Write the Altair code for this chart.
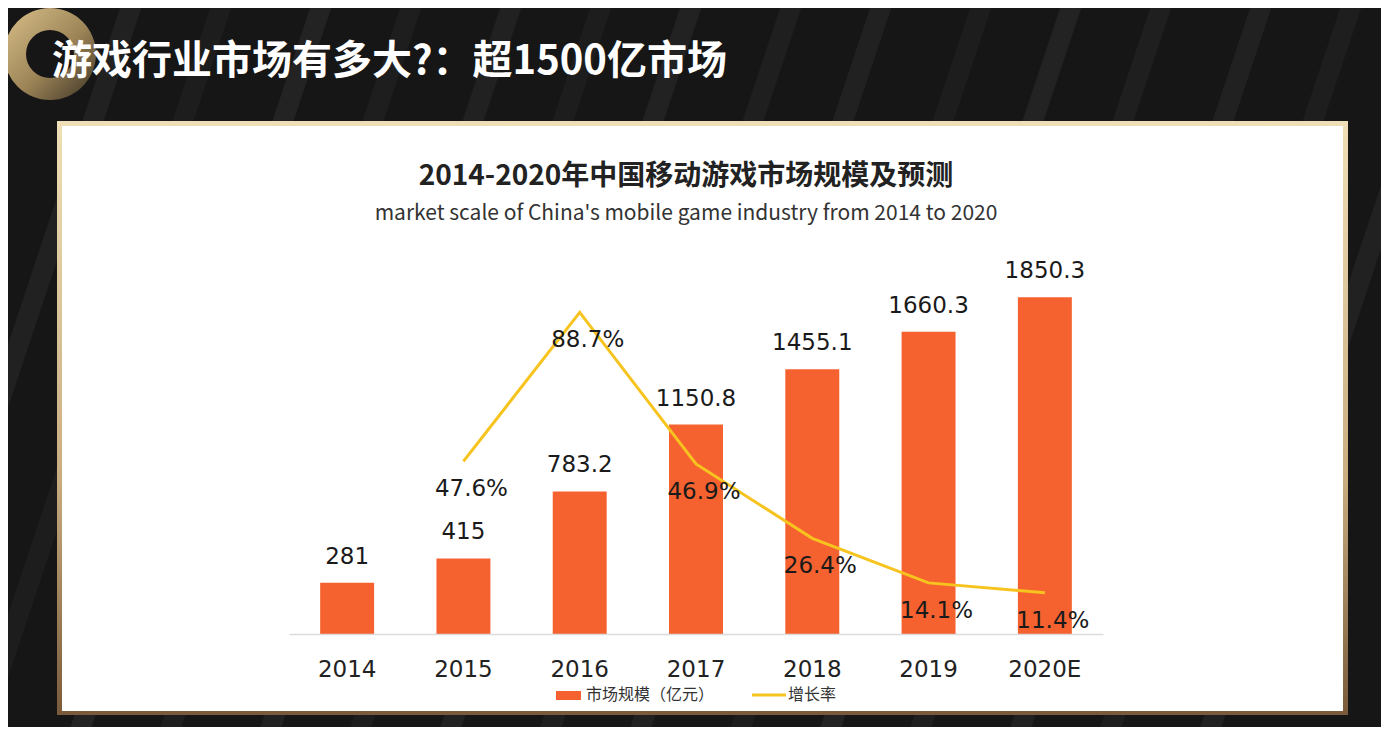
import altair as alt
import pandas as pd

# ---- data ----
years = ["2014", "2015", "2016", "2017", "2018", "2019", "2020E"]
market = [281, 415, 783.2, 1150.8, 1455.1, 1660.3, 1850.3]
growth = [None, 47.6, 88.7, 46.9, 26.4, 14.1, 11.4]

slide_title = "游戏行业市场有多大?：超1500亿市场"
chart_title = "2014-2020年中国移动游戏市场规模及预测"
chart_subtitle = "market scale of China's mobile game industry from 2014 to 2020"
legend_bar = "市场规模（亿元）"
legend_line = "增长率"

BAR_COLOR = "#F5622F"
LINE_COLOR = "#F7C31E"

df = pd.DataFrame({"year": years, "market": market, "growth": growth})
df["mlabel"] = [f"{v:g}" for v in market]
df["glabel"] = [f"{g}%" if g is not None else "" for g in growth]

one = pd.DataFrame({"a": [0]})

# plot area origin on the page (screen px), used for decoration placement
OX, OY = 289, 270
W, H = 814, 364

def sx(x):
    return x - OX

def sy(y):
    return y - OY

x_enc = alt.X("year:N", sort=years, title=None,
              scale=alt.Scale(paddingInner=0.536, paddingOuter=0.268),
              axis=alt.Axis(labelAngle=0, ticks=False, domain=True,
                            domainColor="#dcdcdc", domainWidth=1.5,
                            labelFont="DejaVu Sans", labelFontSize=23,
                            labelColor="#222222", labelPadding=24, grid=False,
                            zindex=1))
x_plain = alt.X("year:N", sort=years)
y_bar = alt.Y("market:Q", axis=None, scale=alt.Scale(domain=[0, 2000], nice=False))
y_rate = alt.Y("growth:Q", axis=None, scale=alt.Scale(domain=[0, 100.4], nice=False))

# ---- decorations ----
stripes = pd.DataFrame({
    "x": [sx(v) for v in [140, 230, 330, 420, 520, 610, 700, 800, 890, 990, 1080, 1170, 1270, 1360, 1460]],
    "o": [0.05, 0.03, 0.06, 0.035, 0.05, 0.03, 0.055, 0.04, 0.05, 0.03, 0.06, 0.04, 0.05, 0.035, 0.05],
})
stripes["y"] = sy(-20)
stripes["x2"] = stripes["x"] - 260
stripes["y2"] = sy(760)

stripe_layer = alt.Chart(stripes).mark_rule(color="#ffffff", strokeWidth=20).encode(
    x=alt.X("x:Q", scale=None), y=alt.Y("y:Q", scale=None),
    x2="x2:Q", y2="y2:Q", opacity=alt.Opacity("o:Q", scale=None, legend=None))

ring = alt.Chart(one).mark_arc(
    radius=46, radius2=24, theta=0, theta2=6.2832,
    color=alt.Gradient(gradient="linear", x1=0, y1=0, x2=1, y2=1,
                       stops=[alt.GradientStop(offset=0, color="#d9c08a"),
                              alt.GradientStop(offset=0.55, color="#9c8457"),
                              alt.GradientStop(offset=1, color="#3b3224")])
).encode(x=alt.value(sx(50)), y=alt.value(sy(54)))

title_slide = alt.Chart(one).mark_text(
    text=slide_title, align="left", baseline="middle", font="Noto Sans CJK SC",
    fontSize=40, fontWeight="bold", color="#ffffff"
).encode(x=alt.value(sx(52)), y=alt.value(sy(62)))

panel_border = alt.Chart(one).mark_rect(
    color=alt.Gradient(gradient="linear", x1=0, y1=0, x2=0, y2=1,
                       stops=[alt.GradientStop(offset=0, color="#efdfb6"),
                              alt.GradientStop(offset=0.6, color="#c9ad80"),
                              alt.GradientStop(offset=1, color="#7a5a3a")])
).encode(x=alt.value(sx(57)), x2=alt.value(sx(1348)), y=alt.value(sy(121)), y2=alt.value(sy(715)))

panel = alt.Chart(one).mark_rect(color="#ffffff").encode(
    x=alt.value(sx(62)), x2=alt.value(sx(1343)), y=alt.value(sy(126)), y2=alt.value(sy(711)))

t1 = alt.Chart(one).mark_text(
    text=chart_title, align="center", baseline="middle", font="Noto Sans CJK SC",
    fontSize=28, fontWeight="bold", color="#222222"
).encode(x=alt.value(sx(686)), y=alt.value(sy(177)))

t2 = alt.Chart(one).mark_text(
    text=chart_subtitle, align="center", baseline="middle", font="Noto Sans CJK SC",
    fontSize=21, color="#333333"
).encode(x=alt.value(sx(686)), y=alt.value(sy(214)))

LEG_Y = 695
leg_rect = alt.Chart(one).mark_rect(color=BAR_COLOR).encode(
    x=alt.value(sx(556)), x2=alt.value(sx(581)), y=alt.value(sy(LEG_Y - 4)), y2=alt.value(sy(LEG_Y + 5)))
leg_t1 = alt.Chart(one).mark_text(
    text=legend_bar, align="left", baseline="middle", font="Noto Sans CJK SC",
    fontSize=16, color="#333333").encode(x=alt.value(sx(586)), y=alt.value(sy(LEG_Y)))
leg_rule = alt.Chart(one).mark_rule(color=LINE_COLOR, strokeWidth=3).encode(
    x=alt.value(sx(752)), x2=alt.value(sx(786)), y=alt.value(sy(LEG_Y)))
leg_t2 = alt.Chart(one).mark_text(
    text=legend_line, align="left", baseline="middle", font="Noto Sans CJK SC",
    fontSize=16, color="#333333").encode(x=alt.value(sx(788)), y=alt.value(sy(LEG_Y)))

# ---- data marks ----
base = alt.Chart(df)

bars = base.mark_bar(color=BAR_COLOR).encode(x=x_enc, y=y_bar)
bar_text = base.mark_text(
    font="DejaVu Sans", fontSize=23, color="#1a1a1a", baseline="alphabetic", dy=-19
).encode(x=x_plain, y=y_bar, text="mlabel:N")

line = base.transform_filter("isValid(datum.growth)").mark_line(
    color=LINE_COLOR, strokeWidth=3
).encode(x=x_plain, y=y_rate)
rate_text = base.transform_filter("isValid(datum.growth)").mark_text(
    font="DejaVu Sans", fontSize=23, color="#1a1a1a", baseline="middle", dx=8, dy=28
).encode(x=x_plain, y=y_rate, text="glabel:N")

bar_group = alt.layer(bars, bar_text)
rate_group = alt.layer(line, rate_text)
data_group = alt.layer(bar_group, rate_group).resolve_scale(y="independent")

chart = alt.layer(
    stripe_layer, ring, title_slide, panel_border, panel, t1, t2,
    data_group,
    leg_rect, leg_t1, leg_rule, leg_t2
).resolve_scale(x="independent", y="independent").properties(
    width=W, height=H,
    autosize=alt.AutoSizeParams(type="none"),
    padding={"left": OX - 8, "top": OY - 8, "right": 1373 - (OX - 8) - W, "bottom": 719 - (OY - 8) - H},
    background="#161616",
).configure_view(strokeWidth=0)

chart.save("out.html", embed_options={"renderer": "svg", "actions": False})
